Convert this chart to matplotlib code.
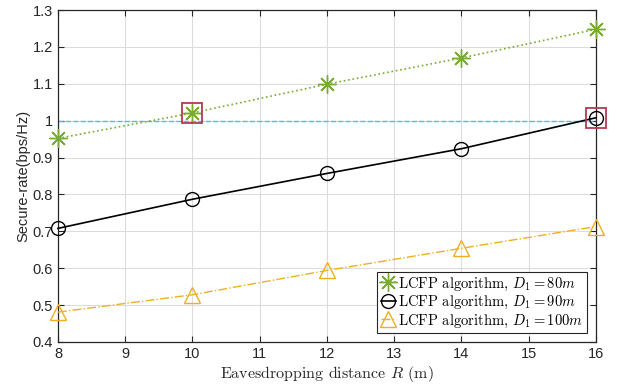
import matplotlib
matplotlib.use("Agg")
import matplotlib.pyplot as plt

plt.rcParams['mathtext.fontset'] = 'cm'
plt.rcParams['font.family'] = ['Liberation Sans', 'DejaVu Sans']

distance = [8, 10, 12, 14, 16]
rate_80 = [0.952, 1.021, 1.099, 1.170, 1.248]
rate_90 = [0.708, 0.787, 0.857, 0.924, 1.008]
rate_100 = [0.481, 0.528, 0.594, 0.654, 0.713]
threshold = 1.0
highlight_x = [10, 16]
highlight_y = [1.021, 1.008]

xticks = list(range(8, 17))
yticks = [0.4, 0.5, 0.6, 0.7, 0.8, 0.9, 1.0, 1.1, 1.2, 1.3]
ytick_labels = ['0.4', '0.5', '0.6', '0.7', '0.8', '0.9', '1', '1.1', '1.2', '1.3']

fig = plt.figure(figsize=(6.22, 3.87), dpi=100)
ax = fig.add_axes([0.0932, 0.1163, 0.8650, 0.8578])

axc = '#262626'
asterisk = (8, 2, 0)
ax.plot([distance[0], distance[-1]], [threshold, threshold], '--', color='#4DBEEE', lw=1.0, zorder=2)
l1, = ax.plot(distance, rate_80, ':', color='#77AC30', lw=1.2, marker=asterisk, ms=13,
              mew=1.0, mfc='none', zorder=3, clip_on=False,
              label=r'LCFP algorithm, $D_1=80m$')
l2, = ax.plot(distance, rate_90, '-', color='black', lw=1.2, marker='o', ms=10,
              mew=1.0, mfc='none', zorder=3, clip_on=False,
              label=r'LCFP algorithm, $D_1=90m$')
l3, = ax.plot(distance, rate_100, '-.', color='#EDB120', lw=1.0, marker='^', ms=11,
              mew=1.0, mfc='none', zorder=3, clip_on=False,
              label=r'LCFP algorithm, $D_1=100m$')
ax.plot(highlight_x, highlight_y, 's', ms=14, mfc='none', mec='#B23A55', mew=1.3,
        linestyle='none', zorder=4, clip_on=False)

ax.set_xlim(8, 16)
ax.set_ylim(0.4, 1.3)
ax.set_xticks(xticks)
ax.set_yticks(yticks)
ax.set_yticklabels(ytick_labels)
ax.grid(True, color='#dcdcdc', lw=0.8)
ax.set_axisbelow(True)
ax.tick_params(direction='in', length=4, width=0.8, colors=axc, labelsize=10.5,
               top=True, right=True, labelcolor=axc)
for s in ax.spines.values():
    s.set_color(axc)
    s.set_linewidth(0.9)

ax.set_ylabel('Secure-rate(bps/Hz)', fontsize=10.5, color=axc, labelpad=2)
ax.set_xlabel(r'Eavesdropping distance $R$ (m)', fontsize=11.5, color=axc,
              family='cmr10', labelpad=2)

leg = ax.legend(handles=[l1, l2, l3], loc='lower right',
                prop={'family': 'cmr10', 'size': 10.5}, fancybox=False,
                framealpha=1, edgecolor=axc, handlelength=1.0, handletextpad=0.2,
                borderpad=0.25, labelspacing=0.1, borderaxespad=0.6)
leg.get_frame().set_linewidth(0.8)

fig.savefig('out.png', dpi=100)
